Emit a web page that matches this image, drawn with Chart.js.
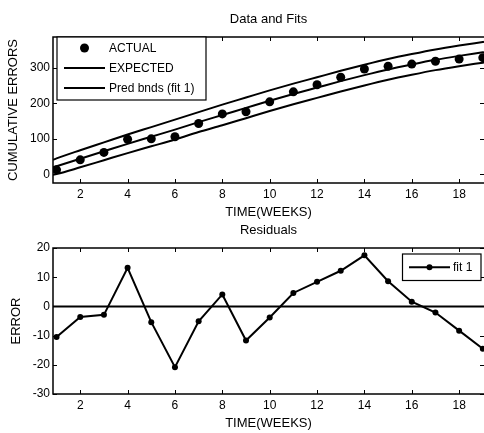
<!DOCTYPE html>
<html>
<head>
<meta charset="utf-8">
<script src="https://cdn.jsdelivr.net/npm/chart.js@4/dist/chart.umd.min.js"></script>
<style>
  html, body { margin: 0; padding: 0; background: #fff; }
  #wrap { position: relative; width: 484px; height: 433px; }
  canvas { position: absolute; left: 0; }
  #top { top: 0; }
  #bot { top: 222px; }
</style>
</head>
<body>
<div id="wrap">
  <canvas id="top" width="484" height="222"></canvas>
  <canvas id="bot" width="484" height="211"></canvas>
</div>
<script>
// ---- data ----
const weeks = [1, 2, 3, 4, 5, 6, 7, 8, 9, 10, 11, 12, 13, 14, 15, 16, 17, 18, 19];
const actual = [13, 41, 62, 99, 100, 106, 143, 170, 176, 204, 232, 252, 273, 296, 304, 310, 318, 324, 328];
const fitWeeks = [0.85, 1, 2, 3, 4, 5, 6, 7, 8, 9, 10, 11, 12, 13, 14, 15, 16, 17, 18, 19, 19.05];
const expected = [20, 23, 44, 65, 86, 106, 126, 147, 167, 187, 207, 226, 244, 262, 279, 295, 309, 322, 333, 343, 343.5];
const upperBnd = [41, 45, 68, 90, 112, 133, 154, 175, 196, 216, 236, 255, 273, 291, 308, 324, 338, 351, 362, 372, 372.5];
const lowerBnd = [-1, 1, 20, 40, 60, 79, 98, 119, 138, 158, 178, 197, 215, 233, 250, 266, 280, 293, 304, 314, 314.5];
const residuals = [-10.5, -3.6, -2.9, 13.2, -5.4, -20.8, -5.1, 4.1, -11.7, -3.8, 4.6, 8.4, 12.2, 17.5, 8.6, 1.6, -2.1, -8.3, -14.5];
const zeroLineX = [0.85, 19.05];
const zeroLineY = [0, 0];
const xTicks = [2, 4, 6, 8, 10, 12, 14, 16, 18];
const yTicksTop = [0, 100, 200, 300];
const yTicksBot = [-30, -20, -10, 0, 10, 20];
const xLimits = [0.85, 19.05];
const yLimitsTop = [-24, 386];
const yLimitsBot = [-30, 20];

const FONT = '"Liberation Sans", Arial, sans-serif';
Chart.defaults.font.family = FONT;
Chart.defaults.color = '#000';
Chart.defaults.animation = false;

const pts = (xs, ys) => xs.map((x, i) => ({ x: x, y: ys[i] }));

// MATLAB-like box with inward ticks
const boxPlugin = {
  id: 'box',
  afterDatasetsDraw(chart) {
    const { ctx, chartArea: a, scales: { x, y } } = chart;
    ctx.save();
    ctx.strokeStyle = '#000';
    ctx.lineWidth = 1;
    const L = 4;
    const line = (x1, y1, x2, y2) => { ctx.beginPath(); ctx.moveTo(x1, y1); ctx.lineTo(x2, y2); ctx.stroke(); };
    x.ticks.forEach(t => {
      const px = Math.round(x.getPixelForValue(t.value)) + 0.5;
      line(px, a.bottom, px, a.bottom - L);
      line(px, a.top, px, a.top + L);
    });
    y.ticks.forEach(t => {
      const py = Math.round(y.getPixelForValue(t.value)) + 0.5;
      line(a.left, py, a.left + L, py);
      line(a.right, py, a.right - L, py);
    });
    ctx.lineWidth = 1.5;
    ctx.strokeRect(a.left, a.top, a.right - a.left + 1.5, a.bottom - a.top);
    ctx.restore();
  }
};

function legendPlugin(box, rows) {
  return {
    id: 'customLegend',
    afterDraw(chart) {
      const { ctx } = chart;
      ctx.save();
      ctx.fillStyle = '#fff';
      ctx.fillRect(box.x, box.y, box.w, box.h);
      ctx.strokeStyle = '#000';
      ctx.lineWidth = 1.2;
      ctx.strokeRect(box.x, box.y, box.w, box.h);
      ctx.font = '12px ' + FONT;
      ctx.textBaseline = 'middle';
      ctx.fillStyle = '#000';
      rows.forEach(r => {
        const ds = chart.data.datasets[r.ds];
        if (r.line) {
          ctx.strokeStyle = ds.borderColor;
          ctx.lineWidth = ds.borderWidth;
          ctx.beginPath(); ctx.moveTo(r.x1, r.y); ctx.lineTo(r.x2, r.y); ctx.stroke();
        }
        if (r.dot) {
          ctx.fillStyle = ds.pointBackgroundColor;
          ctx.beginPath(); ctx.arc((r.x1 + r.x2) / 2, r.y, ds.pointRadius, 0, Math.PI * 2); ctx.fill();
        }
        ctx.fillStyle = '#000';
        ctx.fillText(ds.label, r.tx, r.y + 0.5);
      });
      ctx.restore();
    }
  };
}

const xScale = (titlePadBottom) => ({
  type: 'linear',
  min: xLimits[0], max: xLimits[1],
  afterBuildTicks: s => { s.ticks = xTicks.map(v => ({ value: v })); },
  afterFit: s => { s.height = 39; s.paddingLeft = 0; s.paddingRight = 0; },
  grid: { display: false, drawTicks: false },
  border: { display: false },
  ticks: { font: { size: 12 }, padding: 4, maxRotation: 0, color: '#000' },
  title: { display: true, text: 'TIME(WEEKS)', font: { size: 13 }, padding: { top: 0, bottom: titlePadBottom }, color: '#000' }
});

const yScale = (lims, tickVals, label, titlePadTop) => ({
  type: 'linear',
  min: lims[0], max: lims[1],
  afterBuildTicks: s => { s.ticks = tickVals.map(v => ({ value: v })); },
  afterFit: s => { s.width = 53; },
  grid: { display: false, drawTicks: false },
  border: { display: false },
  ticks: { font: { size: 12 }, padding: 3, color: '#000' },
  title: { display: true, text: label, font: { size: 13 }, padding: { top: titlePadTop, bottom: 0 }, color: '#000' }
});

// ---- top chart: data and fits ----
new Chart(document.getElementById('top'), {
  type: 'scatter',
  data: {
    datasets: [
      { label: 'ACTUAL', data: pts(weeks, actual), showLine: false, pointRadius: 4.5,
        pointBackgroundColor: '#000', pointBorderWidth: 0, borderColor: '#000' },
      { label: 'EXPECTED', data: pts(fitWeeks, expected), showLine: true, pointRadius: 0,
        borderColor: '#000', borderWidth: 2, cubicInterpolationMode: 'monotone' },
      { label: 'Pred bnds (fit 1)', data: pts(fitWeeks, upperBnd), showLine: true, pointRadius: 0,
        borderColor: '#000', borderWidth: 2, cubicInterpolationMode: 'monotone' },
      { label: 'Pred bnds (fit 1) lower', data: pts(fitWeeks, lowerBnd), showLine: true, pointRadius: 0,
        borderColor: '#000', borderWidth: 2, cubicInterpolationMode: 'monotone' }
    ]
  },
  options: {
    responsive: false,
    layout: { autoPadding: false, padding: { left: 0, right: 0, top: 0, bottom: 0 } },
    plugins: {
      legend: { display: false },
      tooltip: { enabled: false },
      title: { display: true, text: 'Data and Fits', fullSize: false, font: { size: 13, weight: 'normal' },
               color: '#000', padding: { top: 11.2, bottom: 10.2 } }
    },
    scales: {
      x: xScale(2.2),
      y: yScale(yLimitsTop, yTicksTop, 'CUMULATIVE ERRORS', 5.5)
    }
  },
  plugins: [boxPlugin, legendPlugin({ x: 57, y: 37, w: 149, h: 63 }, [
    { ds: 0, dot: true, x1: 64, x2: 105, y: 48, tx: 109 },
    { ds: 1, line: true, x1: 64, x2: 105, y: 68, tx: 109 },
    { ds: 2, line: true, x1: 64, x2: 105, y: 88, tx: 109 }
  ])]
});

// ---- bottom chart: residuals ----
new Chart(document.getElementById('bot'), {
  type: 'scatter',
  data: {
    datasets: [
      { label: 'fit 1', data: pts(weeks, residuals), showLine: true, pointRadius: 3,
        pointBackgroundColor: '#000', pointBorderWidth: 0, borderColor: '#000', borderWidth: 2 },
      { label: 'zero', data: pts(zeroLineX, zeroLineY), showLine: true, pointRadius: 0,
        borderColor: '#000', borderWidth: 2 }
    ]
  },
  options: {
    responsive: false,
    layout: { autoPadding: false, padding: { left: 0, right: 0, top: 0, bottom: 0 } },
    plugins: {
      legend: { display: false },
      tooltip: { enabled: false },
      title: { display: true, text: 'Residuals', fullSize: false, font: { size: 13, weight: 'normal' },
               color: '#000', padding: { top: 0.2, bottom: 10.2 } }
    },
    scales: {
      x: xScale(2.2),
      y: yScale(yLimitsBot, yTicksBot, 'ERROR', 8.2)
    }
  },
  plugins: [boxPlugin, legendPlugin({ x: 402.5, y: 32, w: 78.5, h: 26.5 }, [
    { ds: 0, line: true, dot: true, x1: 409, x2: 450, y: 45.3, tx: 453 }
  ])]
});
</script>
</body>
</html>
